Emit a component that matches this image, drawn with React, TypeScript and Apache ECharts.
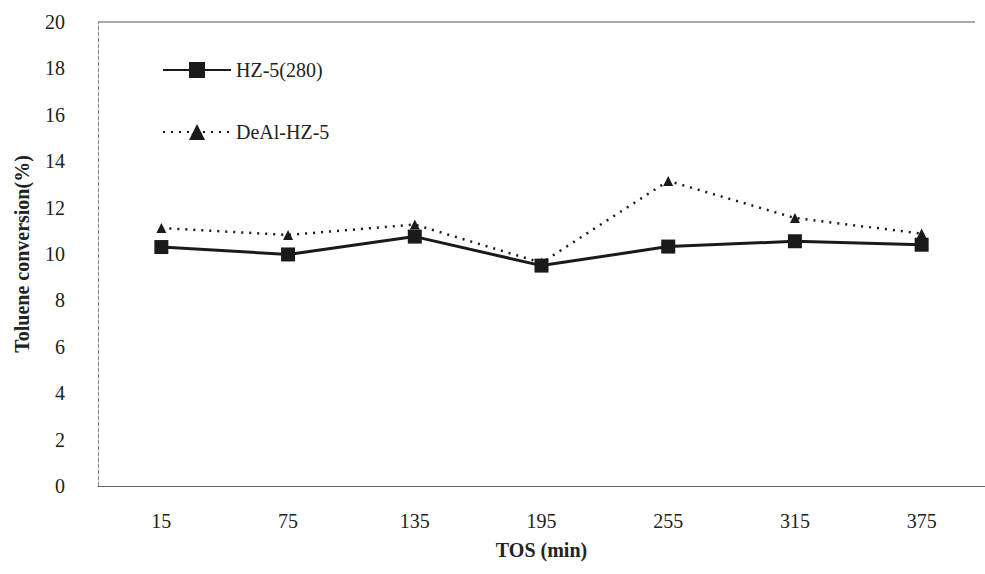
import React, { useEffect, useRef } from "react";
import * as echarts from "echarts";

const categories = ["15", "75", "135", "195", "255", "315", "375"];
const hz5Values = [10.3, 9.98, 10.75, 9.5, 10.32, 10.55, 10.4];
const dealValues = [11.12, 10.82, 11.27, 9.62, 13.15, 11.55, 10.88];
const seriesNames = ["HZ-5(280)", "DeAl-HZ-5"];

const FONT = "Liberation Serif";

export default function App() {
  const ref = useRef<HTMLDivElement>(null);
  useEffect(() => {
    if (!ref.current) return;
    const chart = echarts.init(ref.current, null, { renderer: "svg" });
    chart.setOption({
      animation: false,
      backgroundColor: "#ffffff",
      textStyle: { fontFamily: FONT },
      grid: { left: 98, top: 22, width: 898, height: 464, containLabel: false },
      legend: {
        left: 157,
        top: 54,
        orient: "vertical",
        itemWidth: 68,
        itemHeight: 20,
        itemGap: 40,
        data: seriesNames,
        textStyle: { fontFamily: FONT, fontSize: 20, fontWeight: 400, color: "#222", lineHeight: 22 },
      },
      xAxis: {
        type: "category",
        data: categories,
        boundaryGap: true,
        name: "TOS (min)",
        nameLocation: "middle",
        nameGap: 54,
        nameTextStyle: { fontFamily: FONT, fontSize: 20, fontWeight: "bold", color: "#222" },
        axisLine: { lineStyle: { color: "#666", width: 1.2 } },
        axisTick: { show: false },
        axisLabel: { fontFamily: FONT, fontSize: 20, fontWeight: 400, color: "#222", margin: 25 },
        splitLine: { show: false },
      },
      yAxis: {
        type: "value",
        min: 0,
        max: 20,
        interval: 2,
        name: "Toluene conversion(%)",
        nameLocation: "middle",
        nameRotate: 90,
        nameGap: 66,
        nameTextStyle: { fontFamily: FONT, fontSize: 20, fontWeight: "bold", color: "#222" },
        axisLine: { show: true, lineStyle: { color: "#888", width: 1, type: "dashed" } },
        axisTick: { show: false },
        axisLabel: { fontFamily: FONT, fontSize: 20, fontWeight: 400, color: "#222", margin: 33 },
        splitLine: { show: false },
      },
      graphic: [
        {
          type: "line",
          shape: { x1: 98, y1: 22, x2: 975, y2: 22 },
          style: { stroke: "#555", lineWidth: 1 },
        },
      ],
      series: [
        {
          name: seriesNames[0],
          type: "line",
          data: hz5Values,
          symbol: "rect",
          symbolSize: 14,
          itemStyle: { color: "#1a1a1a" },
          lineStyle: { color: "#1a1a1a", width: 3, type: "solid" },
          z: 3,
        },
        {
          name: seriesNames[1],
          type: "line",
          data: dealValues,
          symbol: "triangle",
          symbolSize: 10,
          itemStyle: { color: "#1a1a1a" },
          lineStyle: { color: "#1a1a1a", width: 2.5, type: [2, 6] },
          z: 2,
        },
      ],
    });
    return () => chart.dispose();
  }, []);
  return (
    <div
      ref={ref}
      style={{ position: "fixed", left: 0, top: 0, width: 985, height: 574, background: "#fff" }}
    />
  );
}
